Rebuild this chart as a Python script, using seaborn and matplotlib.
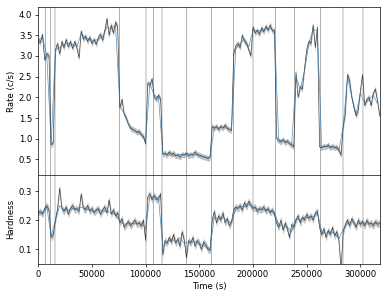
import numpy as np
import matplotlib
matplotlib.use('Agg')
import matplotlib.pyplot as plt
import seaborn as sns

# light curve, 2000 s bins
time = np.arange(0, 320000, 2000)
rate = [
    3.38, 3.32, 3.52, 2.90, 3.05, 3.00, 0.85, 0.90, 3.15, 3.30,
    3.05, 3.35, 3.20, 3.40, 3.22, 3.35, 3.18, 3.35, 3.20, 2.95,
    3.60, 3.40, 3.48, 3.35, 3.45, 3.30, 3.40, 3.28, 3.45, 3.52,
    3.38, 3.62, 3.90, 3.50, 3.75, 3.55, 3.82, 3.70, 1.75, 1.95,
    1.60, 1.50, 1.35, 1.25, 1.22, 1.20, 1.15, 1.18, 1.10, 1.05,
    0.88, 2.35, 2.30, 2.45, 2.00, 1.95, 2.05, 1.95, 0.62, 0.65,
    0.60, 0.68, 0.62, 0.65, 0.58, 0.60, 0.55, 0.62, 0.60, 0.65,
    0.58, 0.62, 0.60, 0.68, 0.62, 0.60, 0.58, 0.56, 0.55, 0.52,
    0.55, 1.30, 1.25, 1.30, 1.22, 1.30, 1.25, 1.33, 1.25, 1.22,
    1.20, 3.05, 3.25, 3.30, 3.20, 3.50, 3.35, 3.30, 3.15, 3.00,
    3.70, 3.55, 3.62, 3.52, 3.68, 3.58, 3.72, 3.62, 3.75, 3.60,
    3.62, 1.00, 0.95, 0.92, 0.98, 0.90, 0.95, 0.88, 0.85, 0.80,
    2.60, 2.00, 2.25, 2.20, 2.70, 3.15, 3.35, 3.30, 3.75, 3.20,
    3.70, 0.80, 0.78, 0.82, 0.80, 0.85, 0.78, 0.82, 0.78, 0.80,
    0.72, 0.60, 1.30, 1.60, 2.55, 2.40, 2.00, 1.75, 1.55, 1.70,
    2.15, 2.55, 1.80, 1.95, 2.00, 1.80, 2.10, 2.20, 1.90, 1.55,
]
hardness = [
    0.225, 0.230, 0.220, 0.240, 0.250, 0.235, 0.140, 0.150, 0.200, 0.240,
    0.310, 0.240, 0.230, 0.245, 0.220, 0.240, 0.250, 0.235, 0.240, 0.230,
    0.290, 0.240, 0.235, 0.250, 0.230, 0.240, 0.225, 0.235, 0.240, 0.220,
    0.235, 0.245, 0.225, 0.270, 0.220, 0.235, 0.215, 0.225, 0.190, 0.205,
    0.175, 0.185, 0.195, 0.180, 0.190, 0.200, 0.185, 0.190, 0.180, 0.200,
    0.130, 0.280, 0.290, 0.270, 0.285, 0.270, 0.275, 0.290, 0.080, 0.130,
    0.120, 0.140, 0.125, 0.150, 0.120, 0.135, 0.110, 0.160, 0.130, 0.070,
    0.130, 0.120, 0.140, 0.110, 0.130, 0.120, 0.100, 0.125, 0.115, 0.100,
    0.095, 0.200, 0.230, 0.190, 0.215, 0.200, 0.225, 0.190, 0.205, 0.180,
    0.195, 0.235, 0.245, 0.240, 0.250, 0.235, 0.260, 0.245, 0.265, 0.250,
    0.240, 0.245, 0.230, 0.240, 0.235, 0.245, 0.230, 0.240, 0.225, 0.235,
    0.220, 0.190, 0.175, 0.200, 0.165, 0.190, 0.170, 0.140, 0.185, 0.175,
    0.200, 0.215, 0.190, 0.210, 0.200, 0.220, 0.205, 0.215, 0.200, 0.225,
    0.230, 0.175, 0.150, 0.170, 0.140, 0.165, 0.150, 0.175, 0.145, 0.160,
    0.130, 0.030, 0.160, 0.185, 0.200, 0.180, 0.205, 0.190, 0.175, 0.200,
    0.185, 0.195, 0.180, 0.200, 0.185, 0.190, 0.180, 0.195, 0.185, 0.190,
]
rate_err = 0.07
hard_err = 0.012

# model, 4000 s grid
model_time = np.arange(0, 320000, 4000)
model_rate = [
    3.38, 3.45, 3.00, 0.87, 3.15, 3.20, 3.28, 3.30, 3.28, 3.22,
    3.55, 3.43, 3.40, 3.37, 3.40, 3.48, 3.70, 3.65, 3.75, 1.80,
    1.60, 1.35, 1.22, 1.17, 1.10, 0.95, 2.32, 2.05, 2.00, 0.63,
    0.62, 0.60, 0.60, 0.62, 0.62, 0.63, 0.62, 0.60, 0.57, 0.55,
    0.55, 1.27, 1.26, 1.28, 1.25, 1.21, 3.18, 3.30, 3.42, 3.22,
    3.62, 3.60, 3.62, 3.66, 3.68, 3.60, 0.96, 0.95, 0.92, 0.85,
    2.50, 2.20, 2.65, 3.30, 3.65, 3.60, 0.80, 0.81, 0.80, 0.80,
    0.72, 1.30, 2.50, 2.00, 1.60, 2.10, 1.85, 1.95, 2.05, 1.85,
]
model_hardness = [
    0.225, 0.225, 0.245, 0.145, 0.200, 0.250, 0.235, 0.235, 0.240, 0.240,
    0.245, 0.240, 0.235, 0.230, 0.235, 0.232, 0.230, 0.225, 0.220, 0.195,
    0.185, 0.190, 0.188, 0.190, 0.190, 0.170, 0.280, 0.280, 0.275, 0.110,
    0.125, 0.135, 0.125, 0.140, 0.120, 0.125, 0.125, 0.125, 0.115, 0.110,
    0.100, 0.210, 0.205, 0.210, 0.200, 0.190, 0.240, 0.245, 0.248, 0.255,
    0.245, 0.238, 0.238, 0.237, 0.232, 0.225, 0.185, 0.180, 0.175, 0.160,
    0.205, 0.200, 0.210, 0.210, 0.212, 0.225, 0.160, 0.155, 0.160, 0.155,
    0.135, 0.170, 0.190, 0.195, 0.185, 0.190, 0.190, 0.190, 0.188, 0.190,
]

# change points and their uncertainty (s)
cp_time = [5900, 10600, 15600, 75000, 100600, 107200, 115000, 137400,
           161000, 181600, 200000, 220800, 238600, 262000, 283500, 302000]
cp_err = [200, 200, 900, 200, 1000, 200, 1000, 200,
          200, 200, 1000, 200, 200, 200, 800, 1000]

sns.set_style('ticks')
fig, (ax1, ax2) = plt.subplots(2, 1, sharex=True, figsize=(390/61, 293/61),
                               gridspec_kw={'height_ratios': [1.9, 1]})
fig.subplots_adjust(left=0.098, right=0.975, top=0.977, bottom=0.1, hspace=0)

for ax, y, yerr, my in [(ax1, rate, rate_err, model_rate),
                        (ax2, hardness, hard_err, model_hardness)]:
    for t, e in zip(cp_time, cp_err):
        if e > 500:
            ax.axvline(t, color='0.85', lw=2.2, zorder=0)
        else:
            ax.axvline(t, color='0.55', lw=0.8, zorder=0)
    y = np.array(y)
    ax.fill_between(time, y - yerr, y + yerr, color='0.6', alpha=0.6, lw=0)
    sns.lineplot(x=time, y=y, ax=ax, color='0.2', lw=0.75)
    sns.lineplot(x=model_time, y=my, ax=ax, color='#1f77b4', lw=0.8, alpha=0.8)
    for s in ax.spines.values():
        s.set_color('black')
    ax.tick_params(colors='black', labelsize=10)

ax1.set_ylim(0.12, 4.19)
ax1.set_yticks([0.5, 1.0, 1.5, 2.0, 2.5, 3.0, 3.5, 4.0])
ax2.set_ylim(0.05, 0.355)
ax2.set_yticks([0.1, 0.2, 0.3])
ax2.set_xlim(0, 318500)
ax2.set_xticks([0, 50000, 100000, 150000, 200000, 250000, 300000])
ax2.ticklabel_format(axis='x', style='plain')

ax1.set_ylabel('Rate (c/s)', fontsize=10, color='black')
ax2.set_ylabel('Hardness', fontsize=10, color='black')
ax2.set_xlabel('Time (s)', fontsize=10, color='black')
fig.align_ylabels([ax1, ax2])

fig.savefig('out.png', dpi=61)
